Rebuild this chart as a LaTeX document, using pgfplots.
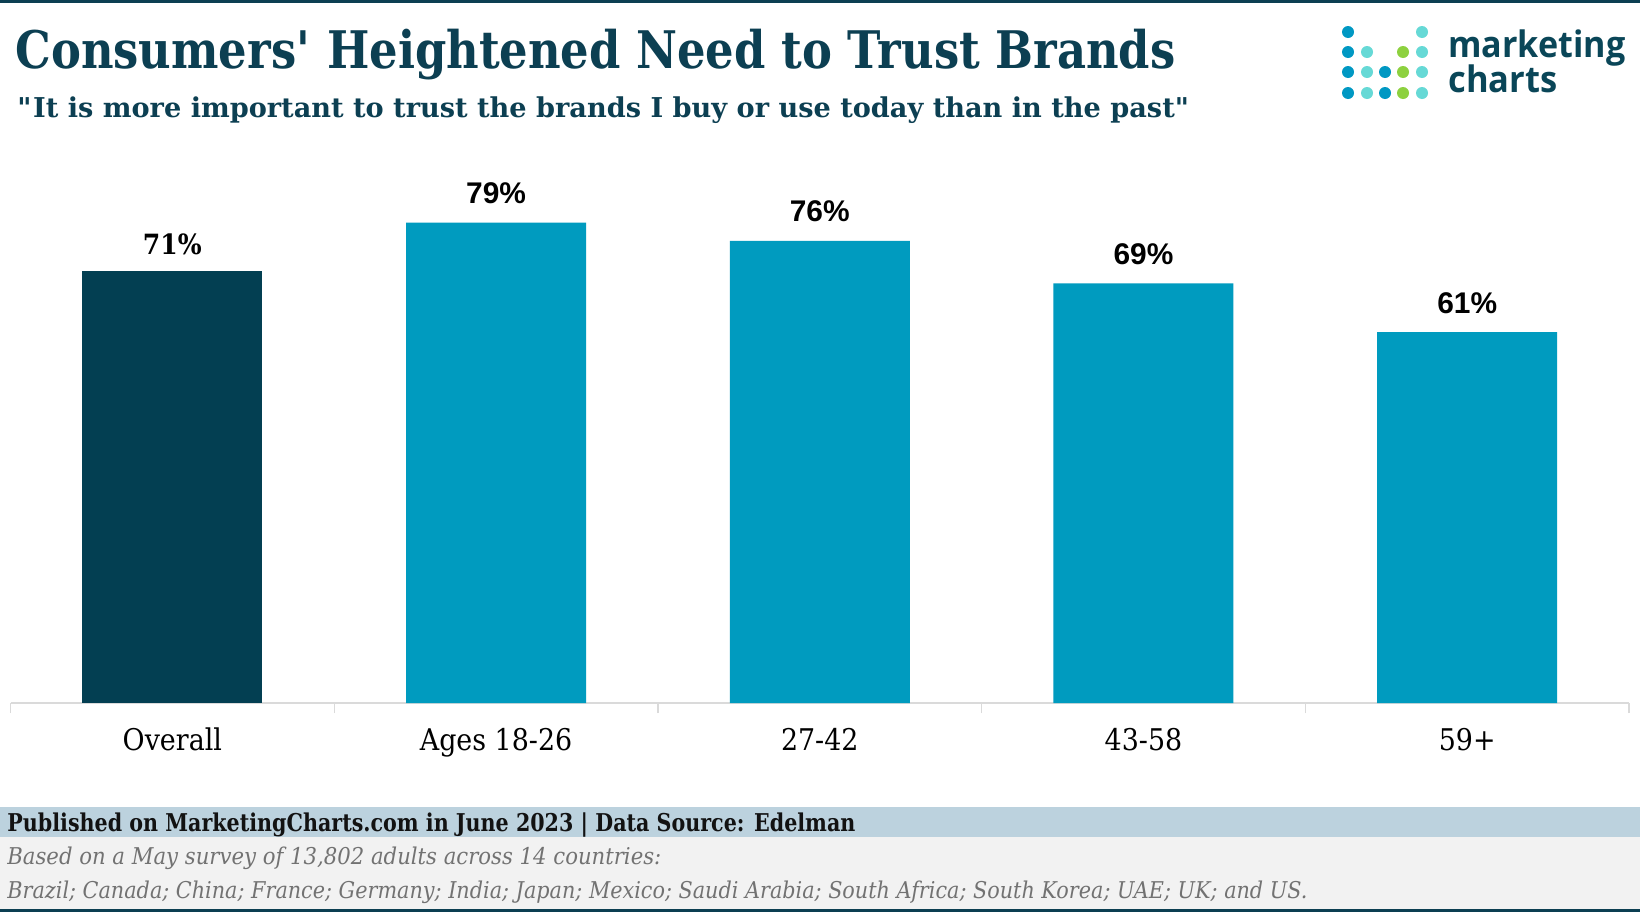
\documentclass[border=0pt]{standalone}
\usepackage{pgfplots}
\pgfplotsset{compat=1.18}
\usepackage{fontspec}
\setmainfont{DejaVu Serif}[FakeStretch=0.9]
\newfontfamily\labelsans{Liberation Sans}
\newfontfamily\logofont{Open Sans}
\definecolor{titleblue}{HTML}{0C3F52}
\definecolor{darkbar}{HTML}{033F52}
\definecolor{lightbar}{HTML}{009BBF}
\definecolor{bandblue}{HTML}{BCD2DE}
\definecolor{bandgray}{HTML}{F2F2F2}
\definecolor{dotblue}{HTML}{0098C3}
\definecolor{dotteal}{HTML}{66D9D6}
\definecolor{dotgreen}{HTML}{8DD13F}
\definecolor{logotext}{HTML}{0A4658}
\definecolor{axisgray}{HTML}{DADADA}
\definecolor{notegray}{HTML}{727272}
\newcommand\fitw[2]{\resizebox{#1}{\height}{#2}}
\begin{document}
\begin{tikzpicture}
\begin{scope}[x=0.5bp,y=-0.5bp]
\fill[white] (0,0) rectangle (1640,912);
\fill[titleblue] (0,0) rectangle (1640,3);
\fill[bandblue] (0,807) rectangle (1640,837);
\fill[bandgray] (0,837) rectangle (1640,909);
\fill[titleblue] (0,909) rectangle (1640,912);
% title and subtitle
\node[anchor=base west, inner sep=0pt, text=titleblue] at (15,68)
  {\fitw{580bp}{\fontsize{26}{30}\selectfont\bfseries Consumers\textquotesingle{} Heightened Need to Trust Brands}};
\node[anchor=base west, inner sep=0pt, text=titleblue] at (17,117)
  {\fitw{586.5bp}{\fontsize{13.7}{16}\selectfont\bfseries \textquotedbl It is more important to trust the brands I buy or use today than in the past\textquotedbl}};
% logo
\foreach \cx/\cy/\cc in {1348/32/dotblue,1348/52/dotblue,1348/72/dotblue,1348/93/dotblue,
  1367/52/dotteal,1367/72/dotteal,1367/93/dotteal,
  1385/72/dotblue,1385/93/dotblue,
  1403/52/dotgreen,1403/72/dotgreen,1403/93/dotgreen,
  1422/32/dotteal,1422/52/dotteal,1422/72/dotteal,1422/93/dotteal}
  {\fill[\cc] (\cx,\cy) circle[radius=3bp];}
\node[anchor=base west, inner sep=0pt, text=logotext] at (1448,57)
  {\fitw{88.5bp}{\logofont\bfseries\fontsize{18.3}{22}\selectfont marketing}};
\node[anchor=base west, inner sep=0pt, text=logotext] at (1448,92)
  {\fitw{54.5bp}{\logofont\bfseries\fontsize{18.3}{22}\selectfont charts}};
% footer
\node[anchor=base west, inner sep=0pt, text=black!93] at (7,831)
  {\fitw{424bp}{\fontsize{12.3}{14}\selectfont\bfseries Published on MarketingCharts.com in June 2023 | Data Source: Edelman}};
\node[anchor=base west, inner sep=0pt, text=notegray] at (7,864)
  {\fitw{327bp}{\fontsize{11.6}{14}\selectfont\itshape Based on a May survey of 13,802 adults across 14 countries:}};
\node[anchor=base west, inner sep=0pt, text=notegray] at (7,898)
  {\fitw{650bp}{\fontsize{11.6}{14}\selectfont\itshape Brazil; Canada; China; France; Germany; India; Japan; Mexico; Saudi Arabia; South Africa; South Korea; UAE; UK; and US.}};
\end{scope}
\begin{axis}[
  at={(5.25bp,-351.5bp)}, anchor=south west,
  scale only axis, width=809.25bp, height=304bp,
  xmin=-0.5, xmax=4.5, ymin=0, ymax=100,
  ybar, bar width=90bp,
  clip=false,
  hide y axis,
  axis x line*=bottom,
  x axis line style={draw=axisgray, line width=0.6bp, -},
  xtick={0,1,2,3,4},
  xticklabels={Overall, Ages 18-26, 27-42, 43-58, 59+},
  major tick length=0pt,
  xticklabel style={anchor=base, yshift=-23.5bp, font=\fontsize{15}{18}\selectfont, text=black},
  extra x ticks={-0.5,0.5,1.5,2.5,3.5,4.5},
  extra x tick labels={},
  extra x tick style={major tick length=5bp, tick align=outside, major tick style={draw=axisgray, line width=0.6bp}},
  /pgf/number format/assume math mode=true,
  nodes near coords={\pgfmathprintnumber{\pgfplotspointmeta}\%},
]
\addplot[fill=darkbar, draw=none, bar shift=0pt,
  every node near coord/.append style={anchor=base, yshift=8.5bp, inner sep=0pt, text=black, font=\fontsize{14}{16}\selectfont\bfseries}]
  coordinates {(0,71)};
\addplot[fill=lightbar, draw=none, bar shift=0pt,
  every node near coord/.append style={anchor=base, yshift=9.5bp, inner sep=0pt, text=black, font=\labelsans\fontsize{15}{18}\selectfont\bfseries}]
  coordinates {(1,79) (2,76) (3,69) (4,61)};
\end{axis}
\end{tikzpicture}
\end{document}
